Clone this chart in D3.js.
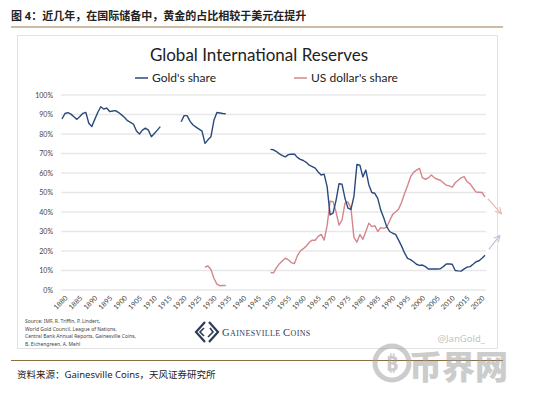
<!DOCTYPE html>
<html>
<head>
<meta charset="utf-8">
<script src="https://cdn.jsdelivr.net/npm/d3@7"></script>
<style>
  body { margin: 0; background: #fff; }
  svg { display: block; font-family: "Noto Sans", "Noto Sans CJK SC", sans-serif; }
</style>
</head>
<body>
<div id="chart"></div>
<script>
// values, in % of reserves, one per year
const goldStart1 = 1880;
const goldShare1 = [87.7, 90.5, 91.0, 90.2, 88.8, 87.5, 89.0, 90.6, 91.1, 85.5,
  83.8, 87.5, 91.0, 94.0, 92.8, 93.3, 91.5, 91.8, 92.0, 91.0,
  89.8, 88.5, 86.8, 86.0, 85.0, 81.5, 80.0, 82.0, 83.0, 82.0,
  78.6, 80.3, 82.0, 83.8];
const goldStart2 = 1920;
const goldShare2 = [86.3, 89.4, 89.4, 86.5, 84.6, 83.5, 82.5, 81.5, 75.2, 77.0,
  78.6, 87.0, 91.0, 90.8, 90.5, 90.3];
const goldStart3 = 1950;
const goldShare3 = [72.1, 71.9, 71.0, 69.8, 68.9, 68.3, 69.4, 69.6, 69.7, 68.0,
  67.0, 66.4, 65.5, 64.0, 63.3, 62.5, 60.5, 59.0, 59.4, 53.0,
  38.5, 39.5, 46.0, 54.5, 54.3, 47.0, 42.0, 41.3, 48.0, 64.4,
  64.0, 58.0, 61.5, 54.0, 50.0, 49.6, 47.0, 41.0, 37.0, 32.5,
  30.0, 29.1, 28.5, 25.6, 22.5, 19.0, 16.2, 15.6, 14.5, 13.2,
  12.6, 12.8, 12.0, 10.8, 10.8, 10.8, 10.8, 10.9, 12.0, 13.3,
  13.3, 13.2, 10.0, 9.8, 9.7, 10.8, 11.7, 12.0, 13.2, 14.5,
  15.0, 16.3, 17.8];

const usdStart1 = 1928;
const usdShare1 = [11.8, 12.3, 10.5, 6.0, 3.0, 2.2, 2.3, 2.3];
const usdStart2 = 1950;
const usdShare2 = [9.0, 8.8, 11.5, 13.5, 15.0, 16.3, 15.5, 14.0, 13.5, 17.5,
  20.0, 21.2, 22.5, 24.5, 25.6, 25.5, 27.5, 28.5, 25.6, 33.0,
  45.5, 45.3, 40.0, 33.3, 35.8, 44.5, 45.2, 42.0, 27.0, 24.5,
  28.5, 26.0, 30.0, 34.3, 32.5, 33.0, 30.0, 32.0, 31.6, 32.3,
  35.5, 38.8, 40.0, 41.5, 45.0, 49.5, 53.5, 58.0, 60.3, 61.5,
  62.4, 57.5, 56.8, 57.5, 59.0, 57.5, 56.8, 56.3, 55.0, 53.8,
  53.4, 52.7, 55.0, 56.3, 57.5, 58.1, 55.5, 54.4, 52.3, 50.2,
  50.1, 50.0, 47.8];

const yTicks = [0, 10, 20, 30, 40, 50, 60, 70, 80, 90, 100];
const xTicks = [1880, 1885, 1890, 1895, 1900, 1905, 1910, 1915, 1920, 1925, 1930,
  1935, 1940, 1945, 1950, 1955, 1960, 1965, 1970, 1975, 1980, 1985, 1990,
  1995, 2000, 2005, 2010, 2015, 2020];
const sourceLines = ["Source: IMF, R. Triffin, P. Lindert,",
  "World Gold Council, League of Nations,",
  "Central Bank Annual Reports, Gainesville Coins,",
  "B. Eichengreen, A. Mehl"];

const W = 540, H = 393;
const goldColor = "#2a4a7c";
const usdColor = "#d4878a";

const svg = d3.select("#chart").append("svg")
  .attr("width", W).attr("height", H);

// page header
svg.append("text").attr("x", 11).attr("y", 20)
  .style("font-size", "11px").style("font-weight", "700").style("fill", "#222")
  .text("图 4：近几年，在国际储备中，黄金的占比相较于美元在提升");
svg.append("line").attr("x1", 11).attr("x2", 503).attr("y1", 27).attr("y2", 27)
  .attr("stroke", "#9b7b4a").attr("stroke-width", 1.2);

// chart frame
svg.append("rect").attr("x", 17.5).attr("y", 35.5).attr("width", 480).attr("height", 313)
  .attr("fill", "#fff").attr("stroke", "#e2e2e2");

svg.append("text").attr("x", 259).attr("y", 61).attr("text-anchor", "middle")
  .style("font-family", "Lato, 'Noto Sans', sans-serif")
  .style("font-size", "17px").style("fill", "#222")
  .text("Global International Reserves");

// legend
const legend = [
  { label: "Gold's share", color: goldColor, x: 135 },
  { label: "US dollar's share", color: usdColor, x: 294 }
];
legend.forEach((d) => {
  svg.append("line").attr("x1", d.x).attr("x2", d.x + 13).attr("y1", 78).attr("y2", 78)
    .attr("stroke", d.color).attr("stroke-width", 1.5);
  svg.append("text").attr("x", d.x + 17).attr("y", 82)
    .style("font-family", "Lato, 'Noto Sans', sans-serif")
    .style("font-size", "12px").style("fill", "#222").text(d.label);
});

const x = d3.scaleLinear().domain([1880, 2022]).range([62, 485]);
const y = d3.scaleLinear().domain([0, 100]).range([290, 95]);

// gridlines
svg.append("g").selectAll("line").data(yTicks).enter().append("line")
  .attr("x1", 61).attr("x2", 486)
  .attr("y1", (d) => y(d)).attr("y2", (d) => y(d))
  .attr("stroke", "#e8e8e8").attr("stroke-width", 1.3);

const yAxis = svg.append("g").attr("transform", "translate(56,0)")
  .call(d3.axisLeft(y).tickValues(yTicks).tickSize(0).tickFormat((d) => d + "%"));
yAxis.select(".domain").remove();
yAxis.selectAll("text").attr("x", -3)
  .style("font-size", "7px").style("fill", "#444").style("font-family", "Lato, sans-serif");

const xAxis = svg.append("g").attr("transform", "translate(0,295)")
  .call(d3.axisBottom(x).tickValues(xTicks).tickSize(0).tickFormat((d) => String(d)));
xAxis.select(".domain").remove();
xAxis.selectAll("text")
  .attr("text-anchor", "end")
  .attr("transform", "rotate(-45)")
  .attr("dx", "0.2em").attr("dy", "0.5em")
  .style("font-size", "7px").style("fill", "#444").style("font-family", "Lato, sans-serif");

function toPoints(start, values) {
  return values.map((v, i) => ({ year: start + i, value: v }));
}

const line = d3.line().x((d) => x(d.year)).y((d) => y(d.value));

const series = [
  { pts: toPoints(usdStart1, usdShare1), color: usdColor },
  { pts: toPoints(usdStart2, usdShare2), color: usdColor },
  { pts: toPoints(goldStart1, goldShare1), color: goldColor },
  { pts: toPoints(goldStart2, goldShare2), color: goldColor },
  { pts: toPoints(goldStart3, goldShare3), color: goldColor }
];
series.forEach((s) => {
  svg.append("path").datum(s.pts).attr("d", line)
    .attr("fill", "none").attr("stroke", s.color).attr("stroke-width", 1.4)
    .attr("stroke-linejoin", "round");
});

// trend arrows
const defs = svg.append("defs");
[["arrRed", "#e6b3b3"], ["arrBlue", "#b5c2d6"]].forEach(([id, c]) => {
  defs.append("marker").attr("id", id).attr("viewBox", "0 0 10 10")
    .attr("refX", 9).attr("refY", 5).attr("markerWidth", 7).attr("markerHeight", 7)
    .attr("orient", "auto")
    .append("path").attr("d", "M1,1 L9,5 L1,9").attr("fill", "none")
    .attr("stroke", c).attr("stroke-width", 1.3);
});
const lastUsd = usdShare2[usdShare2.length - 1];
const lastGold = goldShare3[goldShare3.length - 1];
svg.append("line").attr("x1", x(2023)).attr("y1", y(lastUsd) + 2)
  .attr("x2", x(2027.5)).attr("y2", y(lastUsd) + 17)
  .attr("stroke", "#e6b3b3").attr("stroke-width", 1.1).attr("marker-end", "url(#arrRed)");
svg.append("line").attr("x1", x(2023.3)).attr("y1", y(lastGold) - 6)
  .attr("x2", x(2027)).attr("y2", y(lastGold) - 20)
  .attr("stroke", "#b5c2d6").attr("stroke-width", 1.1).attr("marker-end", "url(#arrBlue)");

// source note
svg.append("g").selectAll("text").data(sourceLines).enter().append("text")
  .attr("x", 25).attr("y", (d, i) => 323 + i * 7.5)
  .style("font-size", "5px").style("fill", "#444").text((d) => d);

// Gainesville Coins mark
const logo = svg.append("g").attr("transform", "translate(207,332)")
  .attr("fill", "none").attr("stroke", "#2b3b58").attr("stroke-width", 2.2);
logo.append("path").attr("d", "M-2,-10 L-11,0 L-2,10");
logo.append("path").attr("d", "M2,-10 L11,0 L2,10");
logo.append("path").attr("d", "M-3,-4 L-7,0 L-3,4 M3,-4 L6,0 L1,5").attr("stroke-width", 1.6);
const brand = svg.append("text").attr("x", 222).attr("y", 336)
  .style("font-family", "'Liberation Serif', serif").style("fill", "#2b3b58")
  .style("letter-spacing", "0.4px");
brand.append("tspan").style("font-size", "10.5px").text("G");
brand.append("tspan").style("font-size", "8px").text("AINESVILLE ");
brand.append("tspan").style("font-size", "10.5px").text("C");
brand.append("tspan").style("font-size", "8px").text("OINS");

svg.append("text").attr("x", 485).attr("y", 342).attr("text-anchor", "end")
  .style("font-size", "9.5px").style("fill", "#c4c4c4").text("@JanGold_");

// footer
svg.append("line").attr("x1", 11).attr("x2", 503).attr("y1", 360.5).attr("y2", 360.5)
  .attr("stroke", "#8a6e44").attr("stroke-width", 1.2);
svg.append("text").attr("x", 17).attr("y", 378)
  .style("font-size", "9.5px").style("fill", "#222")
  .text("资料来源：Gainesville Coins，天风证券研究所");

// watermark
const wm = svg.append("g").attr("opacity", 0.5);
wm.append("circle").attr("cx", 392).attr("cy", 363).attr("r", 17)
  .attr("fill", "none").attr("stroke", "#9a9a9a").attr("stroke-width", 5);
wm.append("text").attr("x", 392).attr("y", 371).attr("text-anchor", "middle")
  .style("font-size", "22px").style("font-weight", "700").style("fill", "#9a9a9a").text("₿");
wm.append("text").attr("x", 409).attr("y", 379)
  .style("font-size", "33px").style("font-weight", "900").style("fill", "#9a9a9a")
  .text("币界网");
</script>
</body>
</html>
